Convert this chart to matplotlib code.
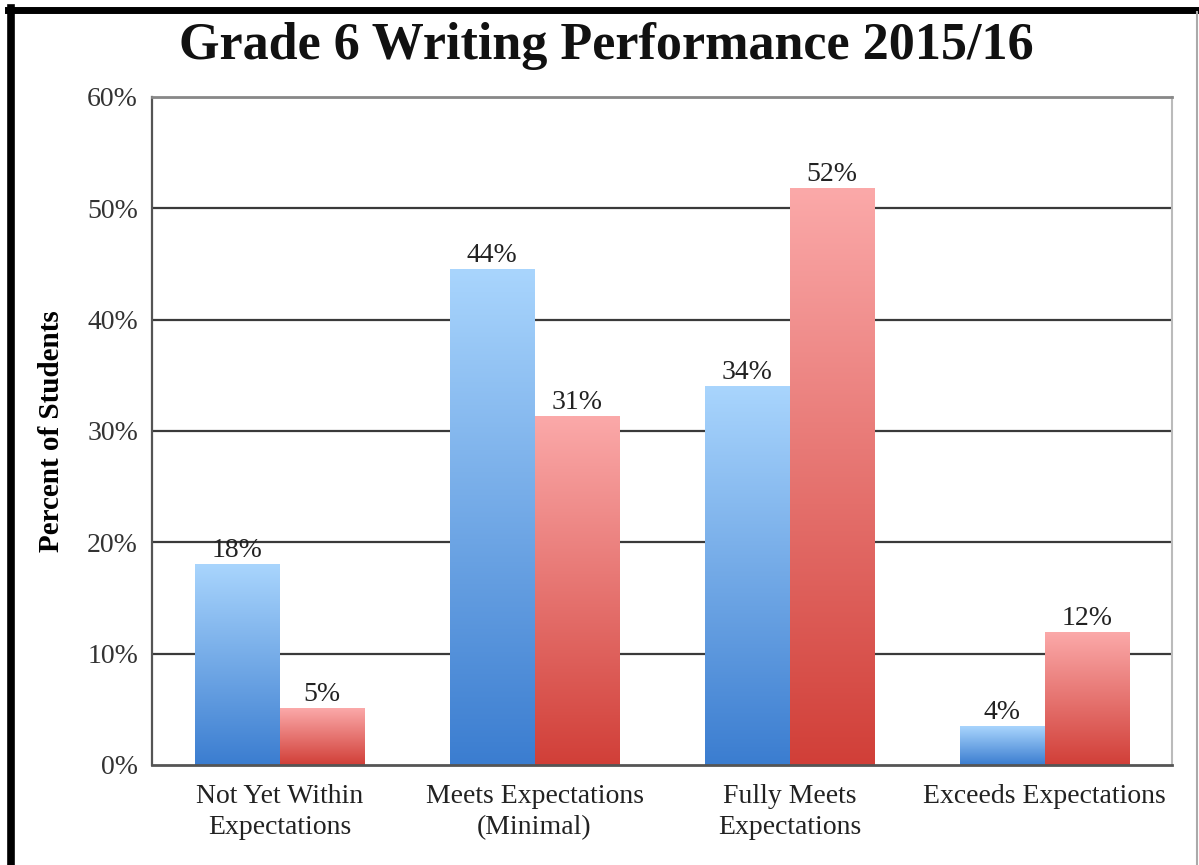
import matplotlib.pyplot as plt
from matplotlib.colors import LinearSegmentedColormap
import numpy as np

# Data
categories = ["Not Yet Within\nExpectations", "Meets Expectations\n(Minimal)",
              "Fully Meets\nExpectations", "Exceeds Expectations"]
blue_vals = [18.0, 44.5, 34.0, 3.5]
red_vals = [5.1, 31.3, 51.8, 11.9]
blue_labels = ["18%", "44%", "34%", "4%"]
red_labels = ["5%", "31%", "52%", "12%"]
yticks = [0, 10, 20, 30, 40, 50, 60]

plt.rcParams['font.family'] = ['Liberation Serif', 'DejaVu Serif']

fig = plt.figure(figsize=(11.99, 8.65), dpi=100)
ax = fig.add_axes([152/1199, 1-765/865, 1020/1199, 668/865])

blue_cmap = LinearSegmentedColormap.from_list("b", ["#3b7dd0", "#a9d5fd"])
red_cmap = LinearSegmentedColormap.from_list("r", ["#d13f38", "#fba9a9"])
grad = np.linspace(0, 1, 256).reshape(-1, 1)

x = np.arange(len(categories))
w = 1/3

# grid lines
for t in yticks[1:]:
    ax.axhline(t, color="#3a3a3a", lw=1.6, zorder=1)

def grad_bar(x0, h, cmap):
    # bar filled with a vertical gradient, light at top
    ax.imshow(grad, cmap=cmap, origin="lower", aspect="auto",
              extent=(x0, x0+w, 0, h), zorder=2, interpolation="bilinear")

for i in range(len(categories)):
    grad_bar(x[i]-w, blue_vals[i], blue_cmap)
    grad_bar(x[i], red_vals[i], red_cmap)
    ax.text(x[i]-w/2, blue_vals[i]+0.1, blue_labels[i], ha="center", va="bottom",
            fontsize=20, color="#222222", zorder=3)
    ax.text(x[i]+w/2, red_vals[i]+0.1, red_labels[i], ha="center", va="bottom",
            fontsize=20, color="#222222", zorder=3)

ax.set_xlim(-0.5, len(categories)-0.5)
ax.set_ylim(0, 60)
ax.set_yticks(yticks)
ax.set_yticklabels([f"{t}%" for t in yticks], fontsize=20, color="#333333")
ax.set_xticks(x)
ax.set_xticklabels(categories, fontsize=20, color="#222222", linespacing=1.3)
ax.tick_params(axis="x", length=0, pad=14)
ax.tick_params(axis="y", length=0, pad=10)

ax.spines["left"].set_color("#555555")
ax.spines["bottom"].set_color("#555555")
ax.spines["left"].set_linewidth(1.6)
ax.spines["bottom"].set_linewidth(2)
ax.spines["top"].set_color("#888888")
ax.spines["top"].set_linewidth(2)
ax.spines["right"].set_color("#bbbbbb")
ax.spines["right"].set_linewidth(1.5)

ax.set_ylabel("Percent of Students", fontsize=21, fontweight="bold", labelpad=16)

fig.text(606/1199, 1-46/865, "Grade 6 Writing Performance 2015/16", ha="center",
         va="center", fontsize=37.5, fontweight="bold", color="#111111")

# outer frame
fig.add_artist(plt.Line2D([11/1199, 11/1199], [0, 1-8/865], color="black", lw=5.5,
                          transform=fig.transFigure))
fig.add_artist(plt.Line2D([8/1199, 1], [1-10/865, 1-10/865], color="black", lw=5,
                          transform=fig.transFigure))
fig.add_artist(plt.Line2D([1197/1199, 1197/1199], [0, 1-12/865], color="#aaaaaa", lw=1.5,
                          transform=fig.transFigure))

fig.savefig("out.png", dpi=100)
